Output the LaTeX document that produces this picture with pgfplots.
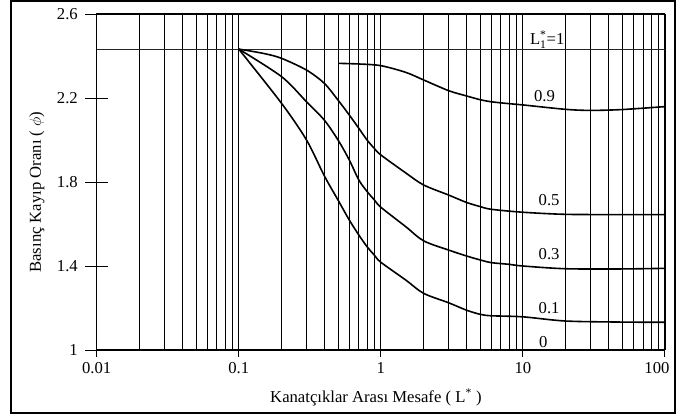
\documentclass[border=0pt]{standalone}
\usepackage{fontspec}
\setmainfont{Liberation Serif}
\usepackage{amsmath}
\usepackage{pgfplots}
\pgfplotsset{compat=1.18}
\begin{document}
\begin{tikzpicture}[font=\fontsize{12.5}{14.5}\selectfont]
\useasboundingbox (0,0) rectangle (507.75pt,314.25pt);
\draw[line width=1.5pt] (8.25pt,4.5pt) rectangle (506.6pt,313.5pt);
\begin{axis}[
  at={(72.5pt,51.75pt)}, anchor=south west,
  scale only axis, width=426.2pt, height=252pt,
  xmode=log, xmin=0.01, xmax=100, ymin=1, ymax=2.6,
  xtick={0.01,0.1,1,10,100}, xticklabels={0.01,0.1,1,10,{\hspace*{-12pt}100}},
  minor xtick={0.02,0.03,0.04,0.05,0.06,0.07,0.08,0.09,
               0.2,0.3,0.4,0.5,0.6,0.7,0.8,0.9,
               2,3,4,5,6,7,8,9,
               20,30,40,50,60,70,80,90},
  ytick={1,1.4,1.8,2.2,2.6}, yticklabels={1,1.4,1.8,2.2,2.6},
  xtick pos=bottom, ytick pos=left,
  tick align=center,
  xtick style={/pgfplots/major tick length=10.5pt, line width=0.7pt, black},
  ytick style={/pgfplots/major tick length=17pt, line width=0.7pt, black},
  minor tick length=0pt,
  xmajorgrids, xminorgrids,
  major grid style={black, line width=0.6pt},
  minor grid style={black, line width=0.6pt},
  axis line style={line width=0.8pt},
  yticklabel style={xshift=-8.5pt},
  xticklabel style={yshift=-3.5pt},
  /pgf/number format/assume math mode=true,
  xlabel={Kanatçıklar Arası Mesafe ( L\textsuperscript{*} )},
  ylabel={Basınç Kayıp Oranı ( $\phi$)},
  xlabel style={at={(axis description cs:0.4915,-0.156)}, anchor=base},
  ylabel style={at={(axis description cs:-0.105,0.47)}, anchor=center, rotate=0},
  clip=false,
]
% L1* = 1 line
\addplot[black!85, line width=0.6pt] coordinates {(0.01,2.433) (100,2.433)};
% 0.9
\addplot[black, line width=1.2pt, smooth] coordinates {
 (0.5,2.365) (0.7,2.362) (1,2.354) (1.5,2.322) (2,2.286) (3,2.235) (4,2.21)
 (5,2.192) (6,2.182) (8,2.173) (10,2.167) (20,2.146) (30,2.141) (50,2.145) (100,2.159)};
% 0.5
\addplot[black, line width=1.2pt, smooth] coordinates {
 (0.1,2.433) (0.15,2.412) (0.2,2.389) (0.3,2.333) (0.4,2.27) (0.5,2.19) (0.6,2.119)
 (0.7,2.056) (0.8,2.0) (0.9,1.96) (1,1.929) (1.5,1.843) (2,1.786) (3,1.738)
 (4,1.703) (5,1.683) (6,1.67) (10,1.656) (20,1.646) (50,1.645) (100,1.645)};
% 0.3
\addplot[black, line width=1.2pt, smooth] coordinates {
 (0.1,2.433) (0.2,2.302) (0.3,2.182) (0.4,2.095) (0.5,2.0) (0.6,1.905)
 (0.7,1.81) (0.8,1.755) (0.9,1.715) (1,1.68) (1.5,1.587) (2,1.52) (3,1.476)
 (4,1.448) (5,1.429) (6,1.416) (8,1.408) (10,1.40) (20,1.387) (50,1.386) (100,1.389)};
% 0.1
\addplot[black, line width=1.2pt, smooth] coordinates {
 (0.1,2.433) (0.2,2.175) (0.3,2.0) (0.4,1.83) (0.5,1.714) (0.6,1.619)
 (0.7,1.548) (0.8,1.492) (0.9,1.452) (1,1.418) (1.5,1.333) (2,1.27) (3,1.225)
 (4,1.19) (5,1.17) (6,1.163) (10,1.158) (20,1.138) (50,1.133) (100,1.132)};
\node[anchor=base] at (axis cs:14.85,2.456) {L$_{\text{1}}^{\text{*}}$=1};
\node[anchor=base] at (axis cs:14.2,2.182) {0.9};
\node[anchor=base] at (axis cs:15.3,1.686) {0.5};
\node[anchor=base] at (axis cs:15.3,1.432) {0.3};
\node[anchor=base] at (axis cs:15.3,1.175) {0.1};
\node[anchor=base] at (axis cs:13.9,1.013) {0};
\end{axis}
\end{tikzpicture}
\end{document}
